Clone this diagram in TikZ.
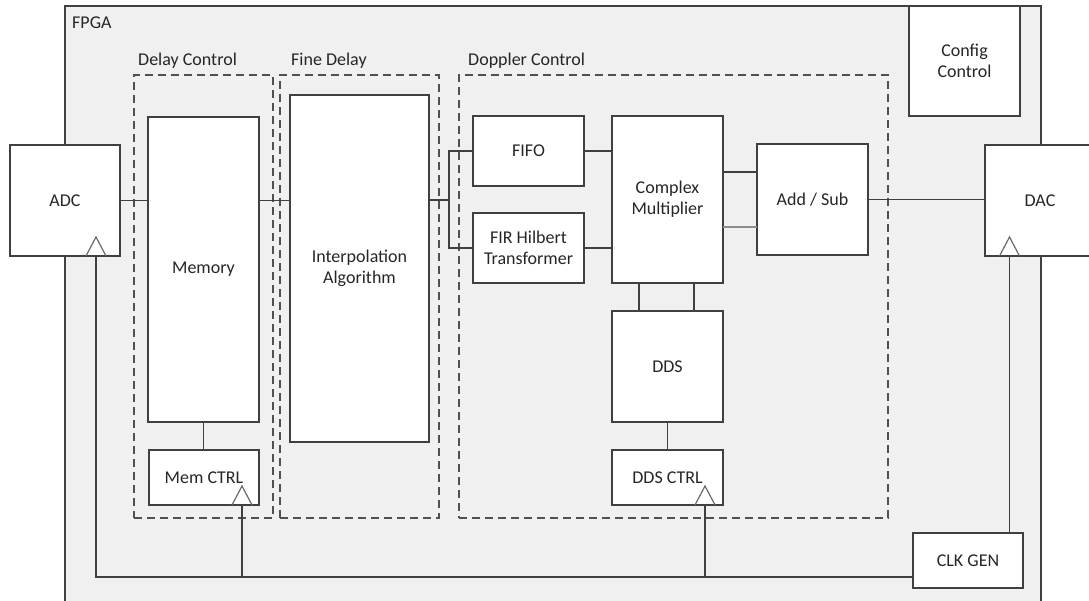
\documentclass[tikz,border=0pt]{standalone}
\usepackage{fontspec}
\setmainfont{Carlito}
\usetikzlibrary{calc}
\definecolor{linegray}{HTML}{404040}
\definecolor{dashgray}{HTML}{505050}
\definecolor{textgray}{HTML}{262626}
\definecolor{fpgafill}{HTML}{F0F0F0}
\definecolor{softwire}{HTML}{8C8C8C}
\definecolor{trigray}{HTML}{6A6A6A}
\begin{document}
\begin{tikzpicture}[x=1pt,y=-1pt,
  txt/.style={text=textgray, font=\fontsize{18}{21}\selectfont},
  block/.style={txt, draw=linegray, line width=1.6pt, fill=white,
    inner sep=0pt, outer sep=0pt, align=center},
  fpgabox/.style={draw=linegray, line width=1.6pt, fill=fpgafill,
    inner sep=0pt, outer sep=0pt},
  groupbox/.style={draw=dashgray, dash pattern=on 8pt off 5pt,
    line width=1.5pt, inner sep=0pt, outer sep=0pt},
  grouplabel/.style={txt, inner sep=0pt, anchor=west},
  wire/.style={draw=linegray, line width=1.6pt},
  softline/.style={draw=softwire, line width=1.3pt},
  clkmark/.style={draw=trigray, line width=1.2pt, line join=miter}]
\useasboundingbox (0,0) rectangle (1089,601);
\clip (0,0) rectangle (1089,601);

% FPGA container
\node[fpgabox, minimum width=976pt, minimum height=614pt] (fpga) at (553,313) {};
\node[grouplabel] (fpgalbl) at (72,23) {FPGA};

% functional groups
\node[groupbox, minimum width=139pt, minimum height=443pt] (delaygrp) at (203.5,296.5) {};
\node[groupbox, minimum width=159pt, minimum height=443pt] (finegrp) at (359.5,296.5) {};
\node[groupbox, minimum width=429pt, minimum height=443pt] (dopgrp) at (673.5,296.5) {};
\node[grouplabel] (delaylbl) at (138,61) {Delay Control};
\node[grouplabel] (finelbl) at (291,61) {Fine Delay};
\node[grouplabel] (doplbl) at (468,61) {Doppler Control};

% blocks
\node[block, minimum width=110pt, minimum height=111pt] (adc) at (65,200.5) {ADC};
\node[block, minimum width=110pt, minimum height=111pt] (dac) at (1040,200.5) {DAC};
\node[block, minimum width=111pt, minimum height=305pt] (mem) at (203.5,269.5) {Memory};
\node[block, minimum width=110pt, minimum height=55pt] (memctrl) at (204,477.5) {Mem CTRL};
\node[block, minimum width=139pt, minimum height=347pt] (interp) at (359.5,268.5) {Interpolation\\Algorithm};
\node[block, minimum width=111pt, minimum height=70pt] (fifo) at (528.5,151) {FIFO};
\node[block, minimum width=111pt, minimum height=70pt] (fir) at (528.5,248) {FIR Hilbert\\Transformer};
\node[block, minimum width=111pt, minimum height=167pt] (cmul) at (667.5,199.5) {Complex\\Multiplier};
\node[block, minimum width=111pt, minimum height=111pt] (addsub) at (812.5,199.5) {Add / Sub};
\node[block, minimum width=111pt, minimum height=111pt] (dds) at (667.5,366.5) {DDS};
\node[block, minimum width=111pt, minimum height=55pt] (ddsctrl) at (667.5,477.5) {DDS CTRL};
\node[block, minimum width=111pt, minimum height=110pt] (config) at (964.5,61) {Config\\Control};
\node[block, minimum width=110pt, minimum height=55pt] (clkgen) at (968,560.5) {CLK GEN};

% connection points
\coordinate (split) at ($(interp.east)+(20,-68.5)$);
\coordinate (cmtop) at ($(cmul.east)+(0,-27.5)$);
\coordinate (cmbot) at ($(cmul.east)+(0,27.5)$);
\coordinate (cmleft) at ($(cmul.south)+(-28.5,0)$);
\coordinate (cmright) at ($(cmul.south)+(26.5,0)$);
\coordinate (adcclk) at ($(adc.south)+(31,0)$);
\coordinate (memclk) at ($(memctrl.south)+(38,0)$);
\coordinate (ddsclk) at ($(ddsctrl.south)+(37.5,0)$);
\coordinate (dacclk) at ($(dac.south)+(-30.5,0)$);
\coordinate (clkout) at ($(clkgen.west)+(0,16.5)$);

% data path
\draw[wire] (adc.east) -- (adc.east -| mem.west);
\draw[wire] (mem.east |- adc.east) -- (interp.west |- adc.east);
\draw[wire] (interp.east |- split) -- (split);
\draw[wire] (fifo.west) -| (split) |- (fir.west);
\draw[wire] (fifo.east) -- (fifo.east -| cmul.west);
\draw[wire] (fir.east) -- (fir.east -| cmul.west);
\draw[wire] (cmtop) -- (cmtop -| addsub.west);
\draw[softline] (cmbot) -- (cmbot -| addsub.west);
\draw[wire] (addsub.east) -- (addsub.east -| dac.west);
\draw[wire] (cmleft) -- (cmleft |- dds.north);
\draw[wire] (cmright) -- (cmright |- dds.north);
\draw[wire] (mem.south) -- (mem.south |- memctrl.north);
\draw[wire] (dds.south) -- (dds.south |- ddsctrl.north);

% clock distribution
\draw[wire] (clkout) -| (adcclk);
\draw[wire] (memclk) -- (memclk |- clkout);
\draw[wire] (ddsclk) -- (ddsclk |- clkout);
\draw[wire] (dacclk) -- (dacclk |- clkgen.north);

% clock input markers
\foreach \c in {adcclk,memclk,ddsclk,dacclk}
  \draw[clkmark] ($(\c)+(-10,0)$) -- ($(\c)+(0,-19)$) -- ($(\c)+(10,0)$);
\end{tikzpicture}
\end{document}
